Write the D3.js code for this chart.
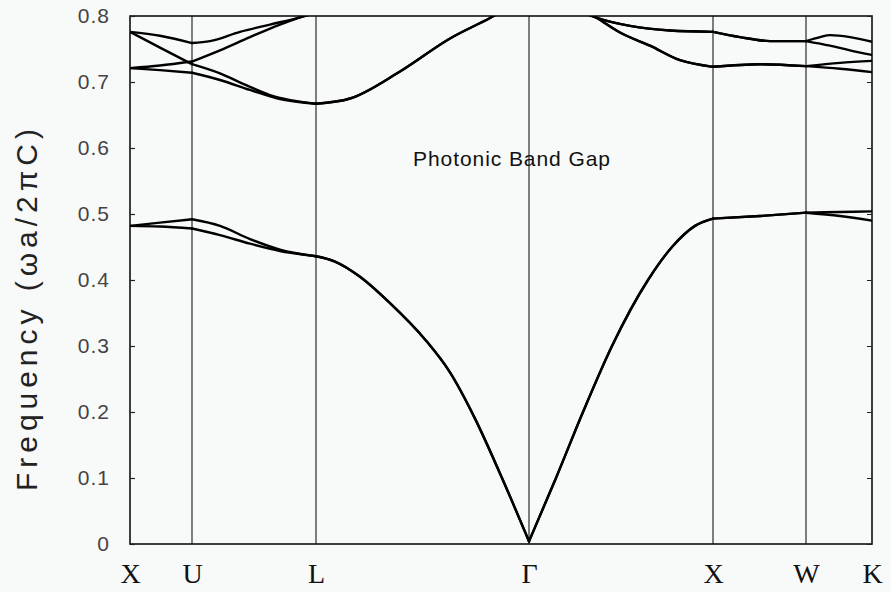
<!DOCTYPE html>
<html>
<head>
<meta charset="utf-8">
<script src="https://cdn.jsdelivr.net/npm/d3@7"></script>
<style>
  html, body { margin: 0; padding: 0; background: #f8f9f9; }
  svg { display: block; }
</style>
</head>
<body>
<div id="chart"></div>
<script>
// ---- data ----
const kLabels = ["X", "U", "L", "Γ", "X", "W", "K"];
const kPositions = [0, 0.62, 1.86, 3.99, 5.83, 6.76, 7.42];
const yTicks = [0, 0.1, 0.2, 0.3, 0.4, 0.5, 0.6, 0.7, 0.8];
const yTickLabels = ["0", "0.1", "0.2", "0.3", "0.4", "0.5", "0.6", "0.7", "0.8"];
const gapLabel = "Photonic Band Gap";
const yTitle = "Frequency (ωa/2πC)";

const band1 = [[0,0.482],[0.3,0.481],[0.62,0.478],[0.9,0.468],[1.2,0.455],[1.5,0.444],[1.86,0.436],
  [2.05,0.428],[2.3,0.405],[2.6,0.365],[2.95,0.31],[3.2,0.26],[3.45,0.19],[3.72,0.10],[3.99,0.004],
  [4.26,0.10],[4.53,0.20],[4.82,0.30],[5.18,0.40],[5.42,0.45],[5.65,0.482],[5.83,0.493],
  [6.3,0.497],[6.76,0.502],[7.1,0.497],[7.42,0.490]];
const band2 = [[0,0.482],[0.3,0.487],[0.62,0.492],[0.9,0.482],[1.2,0.462],[1.5,0.446],[1.86,0.436],
  [2.05,0.428],[2.3,0.405],[2.6,0.365],[2.95,0.31],[3.2,0.26],[3.45,0.19],[3.72,0.10],[3.99,0.004],
  [4.26,0.10],[4.53,0.20],[4.82,0.30],[5.18,0.40],[5.42,0.45],[5.65,0.482],[5.83,0.493],
  [6.3,0.497],[6.76,0.502],[7.1,0.503],[7.42,0.504]];
const band3 = [[0,0.721],[0.3,0.718],[0.62,0.714],[0.9,0.703],[1.2,0.688],[1.5,0.674],[1.86,0.667],
  [2.2,0.675],[2.7,0.716],[3.2,0.766],[3.6,0.797],[3.99,0.83],
  [4.3,0.83],[4.67,0.797],[4.9,0.775],[5.2,0.755],[5.5,0.733],[5.83,0.723],
  [6.3,0.727],[6.76,0.724],[7.1,0.729],[7.42,0.732]];
const band4 = [[0,0.776],[0.3,0.752],[0.62,0.727],[0.9,0.713],[1.15,0.696],[1.4,0.680],[1.86,0.667],
  [2.2,0.675],[2.7,0.716],[3.2,0.766],[3.6,0.797],[3.99,0.83],
  [4.3,0.83],[4.67,0.797],[4.9,0.775],[5.2,0.755],[5.5,0.733],[5.83,0.723],
  [6.3,0.727],[6.76,0.724],[7.1,0.720],[7.42,0.715]];
const band5 = [[0,0.721],[0.3,0.725],[0.62,0.731],[0.9,0.748],[1.2,0.768],[1.5,0.787],[1.7,0.798],[1.86,0.806],
  [2.5,0.84],[3.99,0.86],
  [4.4,0.815],[4.67,0.797],[5.0,0.785],[5.4,0.778],[5.83,0.776],
  [6.1,0.768],[6.4,0.762],[6.76,0.762],[7.0,0.755],[7.2,0.748],[7.42,0.741]];
const band6 = [[0,0.776],[0.3,0.770],[0.62,0.759],[0.8,0.762],[1.1,0.776],[1.4,0.787],[1.7,0.798],[1.86,0.805],
  [2.5,0.84],[3.99,0.86],
  [4.4,0.815],[4.67,0.797],[5.0,0.785],[5.4,0.778],[5.83,0.776],
  [6.1,0.768],[6.4,0.762],[6.76,0.762],[6.9,0.768],[7.0,0.771],[7.2,0.768],[7.42,0.761]];
const bands = [band1, band2, band3, band4, band5, band6];

// ---- layout ----
const W = 891, H = 592;
const margin = { left: 130, right: 19, top: 16, bottom: 48 };
const pw = W - margin.left - margin.right;
const ph = H - margin.top - margin.bottom;

const svg = d3.select("#chart").append("svg").attr("width", W).attr("height", H);
svg.append("rect").attr("width", W).attr("height", H).attr("fill", "#f8f9f9");

const x = d3.scaleLinear().domain([kPositions[0], kPositions[kPositions.length - 1]]).range([0, pw]);
const y = d3.scaleLinear().domain([0, 0.8]).range([ph, 0]);

const g = svg.append("g").attr("transform", `translate(${margin.left},${margin.top})`);

g.append("clipPath").attr("id", "plotclip")
  .append("rect").attr("x", 0).attr("y", 0).attr("width", pw).attr("height", ph);

// vertical symmetry-point lines
g.selectAll("line.sym").data(kPositions.slice(1, -1)).join("line")
  .attr("class", "sym")
  .attr("x1", d => x(d)).attr("x2", d => x(d))
  .attr("y1", 0).attr("y2", ph)
  .attr("stroke", "#2a2a2a").attr("stroke-width", 1.2);

// frame
g.append("rect").attr("x", 0).attr("y", 0).attr("width", pw).attr("height", ph)
  .attr("fill", "none").attr("stroke", "#111").attr("stroke-width", 1.6);

// axes
const yAxis = d3.axisLeft(y).tickValues(yTicks)
  .tickFormat((d, i) => yTickLabels[i]).tickSize(-5).tickPadding(20);
const ya = g.append("g").call(yAxis);
ya.select(".domain").remove();
ya.selectAll(".tick line").attr("stroke", "#222").attr("stroke-width", 1.2);
ya.selectAll(".tick text").attr("font-family", "Liberation Sans, Arial, sans-serif")
  .attr("font-size", 21).attr("fill", "#444").attr("letter-spacing", 1);

const yAxisR = d3.axisRight(y).tickValues(yTicks).tickFormat("").tickSize(-5);
const yr = g.append("g").attr("transform", `translate(${pw},0)`).call(yAxisR);
yr.select(".domain").remove();
yr.selectAll(".tick line").attr("stroke", "#222");

const xAxis = d3.axisBottom(x).tickValues(kPositions)
  .tickFormat((d, i) => kLabels[i]).tickSize(0).tickPadding(19);
const xa = g.append("g").attr("transform", `translate(0,${ph})`).call(xAxis);
xa.select(".domain").remove();
xa.selectAll(".tick text").attr("font-family", "Liberation Serif, Times New Roman, serif")
  .attr("font-size", 28).attr("fill", "#111");

// bands, split into segments at symmetry points so kinks stay sharp
const line = d3.line().x(d => x(d[0])).y(d => y(d[1])).curve(d3.curveMonotoneX);
const segs = [];
bands.forEach(b => {
  for (let s = 0; s < kPositions.length - 1; s++) {
    const a = kPositions[s], c = kPositions[s + 1];
    const pts = b.filter(p => p[0] >= a - 1e-9 && p[0] <= c + 1e-9);
    if (pts.length > 1) segs.push(pts);
  }
});
g.append("g").attr("clip-path", "url(#plotclip)")
  .selectAll("path").data(segs).join("path")
  .attr("d", line).attr("fill", "none")
  .attr("stroke", "#000").attr("stroke-width", 2.4)
  .attr("stroke-linejoin", "round").attr("stroke-linecap", "round");

// label
g.append("text").attr("x", x(2.83)).attr("y", y(0.572))
  .attr("font-family", "Liberation Sans, Arial, sans-serif").attr("font-size", 21)
  .attr("fill", "#111").attr("textLength", 197).attr("lengthAdjust", "spacing")
  .text(gapLabel);

// y title
svg.append("text")
  .attr("transform", `translate(37,${310}) rotate(-90)`)
  .attr("text-anchor", "middle")
  .attr("font-family", "Liberation Sans, Arial, sans-serif").attr("font-size", 30)
  .attr("fill", "#222").attr("textLength", 362).attr("lengthAdjust", "spacing")
  .text(yTitle);
</script>
</body>
</html>
